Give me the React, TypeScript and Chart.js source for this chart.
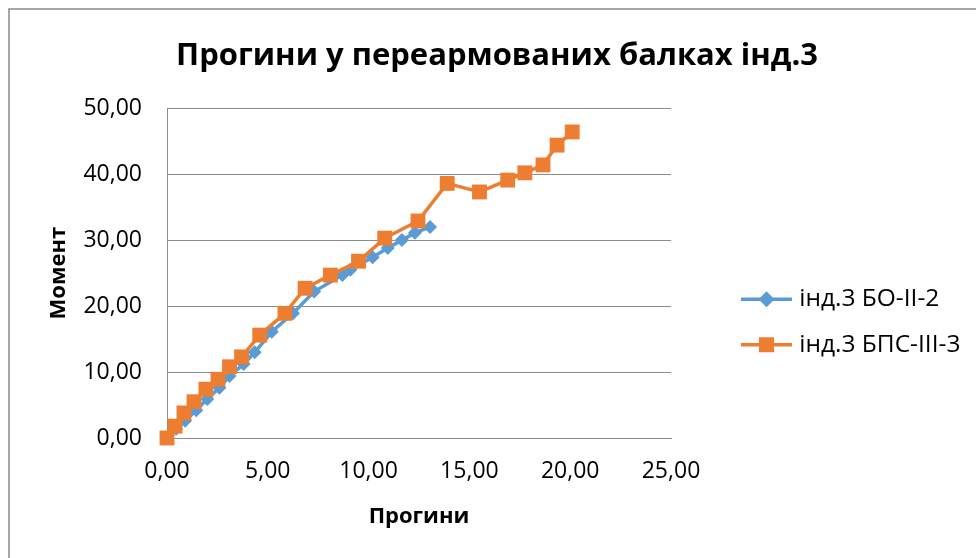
import React, { useEffect, useRef } from "react";
import { Chart, registerables } from "chart.js";

Chart.register(...registerables);

const TITLE = "Прогини у переармованих балках інд.3";
const X_TITLE = "Прогини";
const Y_TITLE = "Момент";

const SERIES_A_LABEL = "інд.3 БО-ІІ-2";
const SERIES_A_X = [0, 0.45, 0.9, 1.45, 2.0, 2.6, 3.1, 3.8, 4.35, 5.2, 6.25, 7.3, 8.7, 9.1, 10.2, 10.95, 11.65, 12.3, 13.05];
const SERIES_A_Y = [0, 1.4, 2.6, 4.2, 5.9, 7.6, 9.4, 11.2, 13.0, 16.1, 18.9, 22.2, 24.7, 25.5, 27.4, 28.8, 30.0, 31.1, 32.0];

const SERIES_B_LABEL = "інд.3 БПС-ІІІ-3";
const SERIES_B_X = [0, 0.4, 0.84, 1.34, 1.93, 2.53, 3.1, 3.7, 4.6, 5.85, 6.85, 8.1, 9.5, 10.8, 12.45, 13.9, 15.5, 16.9, 17.75, 18.65, 19.35, 20.1];
const SERIES_B_Y = [0, 1.8, 3.8, 5.5, 7.4, 8.9, 10.8, 12.3, 15.6, 18.9, 22.7, 24.7, 26.8, 30.3, 32.9, 38.6, 37.3, 39.1, 40.2, 41.4, 44.4, 46.4];

const X_MIN = 0, X_MAX = 25, X_STEP = 5;
const Y_MIN = 0, Y_MAX = 50, Y_STEP = 10;

const BLUE = "#5B9BD5";
const ORANGE = "#ED7D31";
const FONT = "'Open Sans', 'Noto Sans', sans-serif";

const LEGEND_WIDTH = 305;
const LEGEND_PAD = 21;
const LEGEND_ITEM_X = 741;
const LEGEND_SHIFT_Y = 57;
const LEGEND_FONT = 24.5;

const fmt = (v: number) => Number(v).toFixed(2).replace(".", ",");

const borderPlugin = {
  id: "outerBorder",
  beforeDraw(chart: any) {
    const ctx = chart.ctx;
    ctx.save();
    ctx.fillStyle = "#fff";
    ctx.fillRect(0, 0, chart.width, chart.height);
    ctx.strokeStyle = "#8a8a8a";
    ctx.lineWidth = 1.5;
    ctx.beginPath();
    ctx.moveTo(9, chart.height + 5);
    ctx.lineTo(9, 9);
    ctx.lineTo(chart.width + 5, 9);
    ctx.stroke();
    ctx.restore();
  },
};

const legendLayoutPlugin = {
  id: "legendLayout",
  beforeLayout(chart: any) {
    const lg = chart.legend;
    if (lg && !lg._patchedFit) {
      const orig = lg.fit.bind(lg);
      lg.fit = function () {
        orig();
        this.width = LEGEND_WIDTH;
      };
      lg._patchedFit = true;
    }
  },
  afterLayout(chart: any) {
    const lg = chart.legend;
    if (!lg) return;
    lg.left = LEGEND_ITEM_X - LEGEND_PAD;
    lg.right = chart.width;
    lg.top += LEGEND_SHIFT_Y;
    lg.bottom += LEGEND_SHIFT_Y;
  },
};

const legendMarkerPlugin = {
  id: "legendMarkers",
  afterDraw(chart: any) {
    const legend = chart.legend;
    if (!legend || !legend.legendHitBoxes) return;
    const ctx = chart.ctx;
    const items = legend.legendItems || [];
    legend.legendHitBoxes.forEach((hb: any, i: number) => {
      const item = items[i];
      if (!item) return;
      const ds = chart.data.datasets[item.datasetIndex];
      const cy = hb.top + hb.height / 2;
      const x0 = hb.left;
      const x1 = hb.left + 51;
      const cx = (x0 + x1) / 2;
      ctx.save();
      ctx.strokeStyle = ds.borderColor;
      ctx.lineWidth = 3.5;
      ctx.beginPath();
      ctx.moveTo(x0, cy);
      ctx.lineTo(x1, cy);
      ctx.stroke();
      ctx.fillStyle = ds.borderColor;
      if (ds.pointStyle === "rect") {
        const s = 7.5;
        ctx.fillRect(cx - s, cy - s, 2 * s, 2 * s);
      } else {
        const r = 8;
        ctx.beginPath();
        ctx.moveTo(cx, cy - r);
        ctx.lineTo(cx + r, cy);
        ctx.lineTo(cx, cy + r);
        ctx.lineTo(cx - r, cy);
        ctx.closePath();
        ctx.fill();
      }
      ctx.restore();
    });
  },
};

export default function App() {
  const ref = useRef<HTMLCanvasElement>(null);

  useEffect(() => {
    if (!ref.current) return;
    const dataA = SERIES_A_X.map((x, i) => ({ x, y: SERIES_A_Y[i] }));
    const dataB = SERIES_B_X.map((x, i) => ({ x, y: SERIES_B_Y[i] }));
    const chart = new Chart(ref.current, {
      type: "scatter",
      data: {
        datasets: [
          {
            label: SERIES_A_LABEL,
            data: dataA,
            showLine: true,
            borderColor: BLUE,
            backgroundColor: BLUE,
            borderWidth: 3.5,
            pointStyle: "rectRot",
            pointRadius: 7,
            pointBorderWidth: 0,
            clip: false,
            order: 1,
          },
          {
            label: SERIES_B_LABEL,
            data: dataB,
            showLine: true,
            borderColor: ORANGE,
            backgroundColor: ORANGE,
            borderWidth: 3.5,
            pointStyle: "rect",
            pointRadius: 10.5,
            pointBorderWidth: 0,
            clip: false,
            order: 0,
          },
        ],
      },
      options: {
        animation: false,
        responsive: false,
        maintainAspectRatio: false,
        layout: { padding: { left: 18, right: 0, top: 0, bottom: 28 } },
        plugins: {
          title: {
            display: true,
            text: TITLE,
            color: "#000",
            font: { family: FONT, size: 31, weight: "bold" },
            padding: { top: 38, bottom: 33 },
          },
          legend: {
            position: "right",
            labels: {
              color: "#000",
              font: { family: FONT, size: LEGEND_FONT },
              boxWidth: 46,
              boxHeight: 4,
              padding: LEGEND_PAD,
              sort: (a: any, b: any) => a.datasetIndex - b.datasetIndex,
              generateLabels: (chart: any) => {
                const base = Chart.defaults.plugins.legend.labels.generateLabels(chart);
                return base.map((l: any) => ({
                  ...l,
                  fillStyle: "rgba(0,0,0,0)",
                  strokeStyle: "rgba(0,0,0,0)",
                  lineWidth: 0,
                }));
              },
            },
          },
          tooltip: { enabled: false },
        },
        scales: {
          x: {
            type: "linear",
            min: X_MIN,
            max: X_MAX,
            ticks: {
              stepSize: X_STEP,
              color: "#000",
              font: { family: FONT, size: 23 },
              padding: 20,
              callback: (v: any) => fmt(v),
              maxRotation: 0,
            },
            grid: { display: false, drawTicks: false },
            border: { display: true, color: "#8c8c8c", width: 1 },
            title: {
              display: true,
              text: X_TITLE,
              color: "#000",
              font: { family: FONT, size: 22, weight: "bold" },
              padding: 0,
            },
            afterFit: (s: any) => {
              s.height = 92;
            },
          },
          y: {
            type: "linear",
            min: Y_MIN,
            max: Y_MAX,
            ticks: {
              stepSize: Y_STEP,
              color: "#000",
              font: { family: FONT, size: 23 },
              padding: 25,
              callback: (v: any) => fmt(v),
            },
            grid: { color: "#8c8c8c", lineWidth: 1, drawTicks: false },
            border: { display: true, color: "#8c8c8c", width: 1 },
            title: {
              display: true,
              text: Y_TITLE,
              color: "#000",
              font: { family: FONT, size: 22, weight: "bold" },
              padding: { top: 28, bottom: 0 },
            },
            afterFit: (s: any) => {
              s.width = 149;
            },
          },
        },
      },
      plugins: [borderPlugin, legendLayoutPlugin, legendMarkerPlugin],
    });
    return () => chart.destroy();
  }, []);

  return (
    <div style={{ position: "absolute", left: 0, top: 0, width: 976, height: 558 }}>
      <canvas ref={ref} width={976} height={558} style={{ display: "block" }} />
    </div>
  );
}
